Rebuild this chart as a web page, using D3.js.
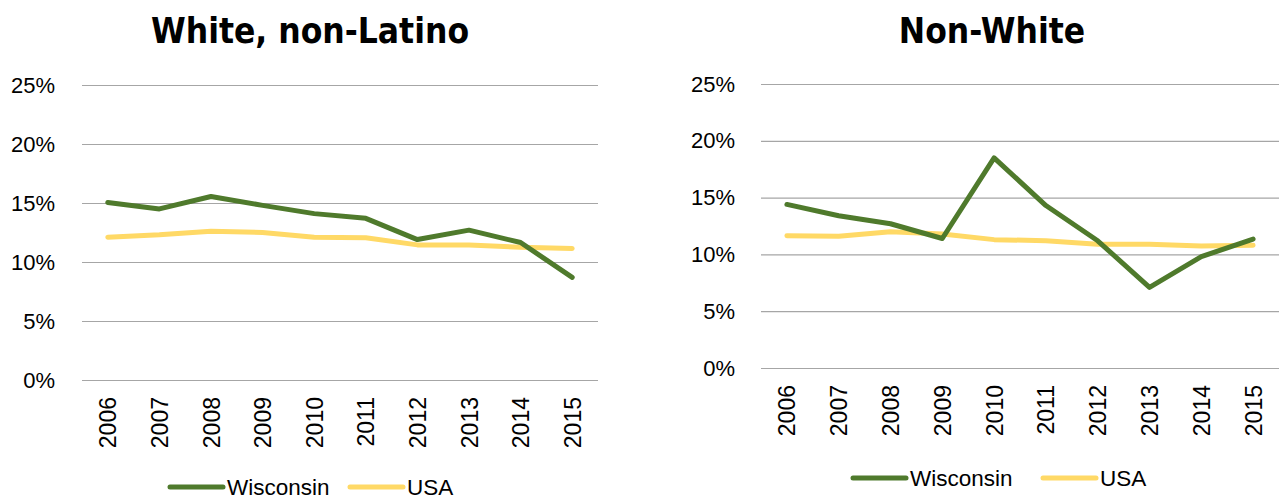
<!DOCTYPE html>
<html><head><meta charset="utf-8">
<script src="https://cdn.jsdelivr.net/npm/d3@7"></script>
<style>body{margin:0;background:#fff}svg{display:block}text{font-family:"Liberation Sans",Arial,sans-serif}</style>
</head><body>
<svg id="c" width="1280" height="500"></svg>
<script>
const years = ["2006","2007","2008","2009","2010","2011","2012","2013","2014","2015"];
const yTicks = [0,5,10,15,20,25];
const titles = ["White, non-Latino","Non-White"];
const seriesNames = ["Wisconsin","USA"];
const seriesColors = ["#4f7a2c","#ffd966"];
const whiteWisconsin = [15.05,14.5,15.55,14.8,14.1,13.7,11.9,12.7,11.65,8.7];
const whiteUSA = [12.1,12.3,12.6,12.5,12.1,12.05,11.45,11.45,11.25,11.15];
const nonWhiteWisconsin = [14.4,13.4,12.7,11.4,18.5,14.3,11.2,7.1,9.8,11.35];
const nonWhiteUSA = [11.65,11.6,12.0,11.8,11.3,11.2,10.9,10.9,10.75,10.8];

const svg = d3.select("#c");
const panels = [
  {title:titles[0], data:[whiteWisconsin,whiteUSA], x0:82, x1:598, yTop:85, yBot:380, labelX:55, titleX:310, legY:487, legX:170, offs:[0,180]},
  {title:titles[1], data:[nonWhiteWisconsin,nonWhiteUSA], x0:761, x1:1279, yTop:84, yBot:368, labelX:735, titleX:992, legY:478, legX:853, offs:[0,190]}
];
panels.forEach(p=>{
  const g = svg.append("g");
  const x = d3.scalePoint().domain(years).range([p.x0,p.x1]).padding(0.5);
  const y = d3.scaleLinear().domain([0,25]).range([p.yBot,p.yTop]);
  g.append("text").attr("x",p.titleX).attr("y",43).attr("text-anchor","middle")
    .style("font-family",'"DejaVu Sans Condensed","DejaVu Sans",sans-serif')
    .attr("font-size",35).attr("font-weight","bold").attr("fill","#000").text(p.title);
  const ya = d3.axisLeft(y).tickValues(yTicks).tickSize(-(p.x1-p.x0)).tickFormat(d=>d+"%");
  const yg = g.append("g").attr("transform",`translate(${p.x0},0)`).call(ya);
  yg.select(".domain").remove();
  yg.selectAll(".tick line").attr("stroke","#a6a6a6").attr("stroke-width",1.2);
  yg.selectAll(".tick text").attr("x",-(p.x0-p.labelX)).attr("font-size",22).attr("fill","#000");
  const xa = d3.axisBottom(x).tickSize(0);
  const xg = g.append("g").attr("transform",`translate(0,${p.yBot})`).call(xa);
  xg.select(".domain").remove();
  xg.selectAll(".tick text").attr("font-size",23).attr("fill","#000")
    .attr("transform","rotate(-90)").attr("text-anchor","end").attr("x",-17).attr("y",0).attr("dy","0.35em");
  const line = d3.line().x((d,i)=>x(years[i])).y(d=>y(d));
  [1,0].forEach(k=>{
    g.append("path").datum(p.data[k]).attr("d",line).attr("fill","none")
      .attr("stroke",seriesColors[k]).attr("stroke-width",5).attr("stroke-linejoin","round").attr("stroke-linecap","round");
  });
  const lg = g.append("g").attr("transform",`translate(${p.legX},${p.legY})`);
  seriesNames.forEach((n,k)=>{
    lg.append("line").attr("x1",p.offs[k]).attr("x2",p.offs[k]+53).attr("y1",0).attr("y2",0)
      .attr("stroke",seriesColors[k]).attr("stroke-width",5).attr("stroke-linecap","round");
    lg.append("text").attr("x",p.offs[k]+57).attr("y",0).attr("dy","0.34em").attr("font-size",22.5).attr("fill","#000").text(n);
  });
});
</script>
</body></html>
